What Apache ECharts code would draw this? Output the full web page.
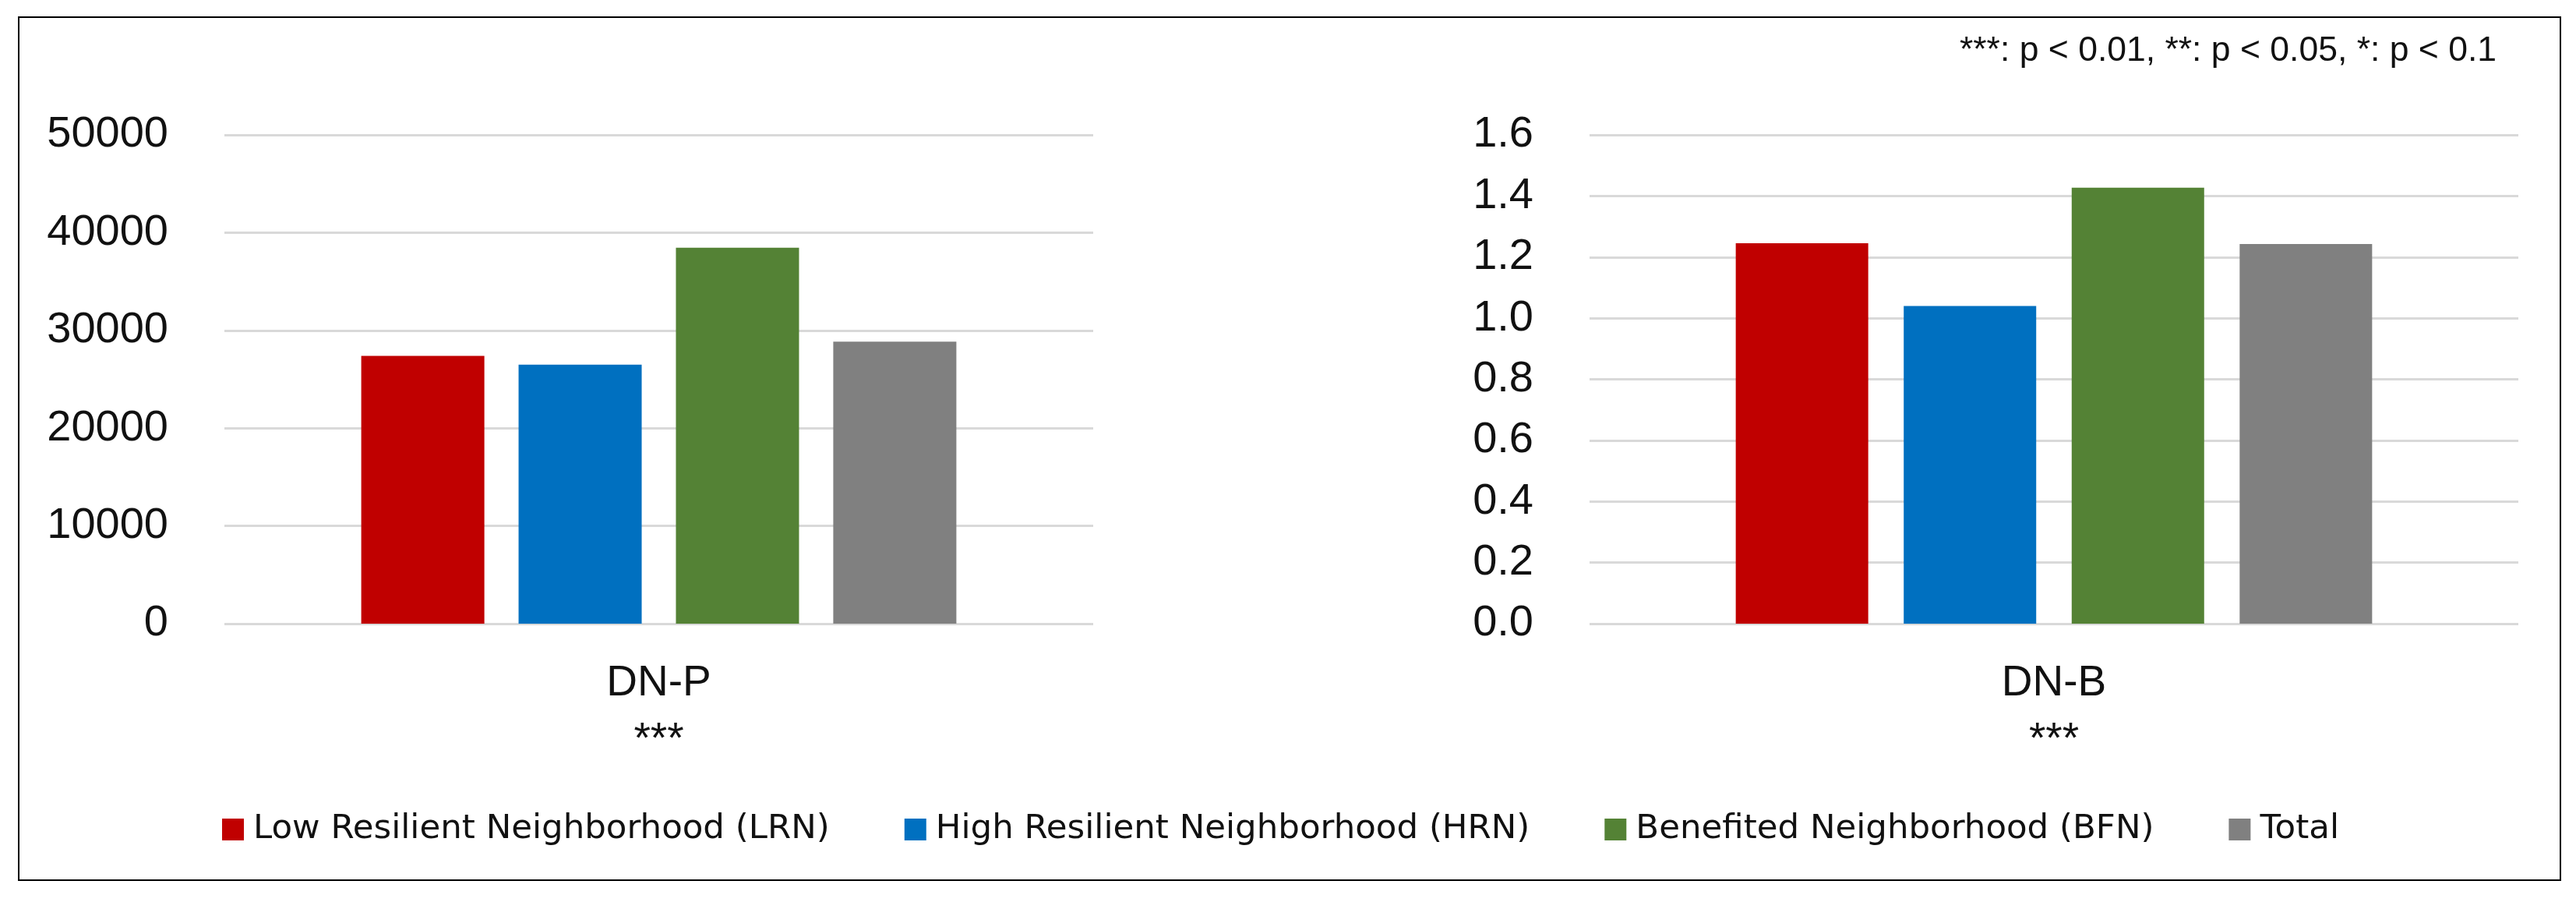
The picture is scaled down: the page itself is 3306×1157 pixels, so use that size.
<!DOCTYPE html>
<html><head><meta charset="utf-8">
<script src="https://cdn.jsdelivr.net/npm/echarts@6/dist/echarts.min.js"></script>
<style>html,body{margin:0;padding:0;background:#fff}#c{width:3306px;height:1157px}</style>
</head><body><div id="c"></div>
<script>
// ---- data ----
const seriesNames = ['Low Resilient Neighborhood (LRN)', 'High Resilient Neighborhood (HRN)', 'Benefited Neighborhood (BFN)', 'Total'];
const seriesColors = ['#C00000', '#0070C0', '#548235', '#808080'];
const categoriesLeft = ['DN-P'];
const categoriesRight = ['DN-B'];
const significanceLeft = '***';
const significanceRight = '***';
const valuesLeft = [27400, 26500, 38450, 28850];
const valuesRight = [1.245, 1.04, 1.427, 1.243];
const yMinLeft = 0, yMaxLeft = 50000, yIntervalLeft = 10000;
const yMinRight = 0, yMaxRight = 1.6, yIntervalRight = 0.2;
const noteText = '***: p < 0.01, **: p < 0.05, *: p < 0.1';

const chart = echarts.init(document.getElementById('c'), null, {renderer: 'canvas'});
const txt = '#111';
const gridColor = '#d9d9d9';
const axisFont = 'Liberation Sans';

function yAxis(gridIndex, min, max, interval, fmt) {
  return {
    type: 'value', gridIndex, min, max, interval,
    axisLine: {show: false}, axisTick: {show: false},
    splitLine: {show: true, lineStyle: {color: gridColor, width: 3}},
    axisLabel: {margin: 72, color: txt, fontSize: 56, fontFamily: axisFont, formatter: fmt}
  };
}
function xAxis(gridIndex, cats, sig) {
  return {
    type: 'category', gridIndex, data: cats,
    axisLine: {show: false}, axisTick: {show: false},
    axisLabel: {margin: 40, color: txt, fontSize: 55, fontFamily: axisFont, lineHeight: 73,
      formatter: v => v + '\n' + sig}
  };
}

const series = [];
seriesNames.forEach((name, i) => {
  series.push({type: 'bar', name, xAxisIndex: 0, yAxisIndex: 0, data: [valuesLeft[i]],
    barWidth: 158, barGap: '27.8%', itemStyle: {color: seriesColors[i]}});
});
seriesNames.forEach((name, i) => {
  series.push({type: 'bar', name, xAxisIndex: 1, yAxisIndex: 1, data: [valuesRight[i]],
    barWidth: 170, barGap: '26.8%', itemStyle: {color: seriesColors[i]}});
});

chart.setOption({
  backgroundColor: '#ffffff',
  animation: false,
  grid: [
    {left: 288, right: 3306 - 1403, top: 173, bottom: 1157 - 800},
    {left: 2040, right: 3306 - 3232, top: 173, bottom: 1157 - 800}
  ],
  xAxis: [xAxis(0, categoriesLeft, significanceLeft), xAxis(1, categoriesRight, significanceRight)],
  yAxis: [
    yAxis(0, yMinLeft, yMaxLeft, yIntervalLeft, v => String(v)),
    yAxis(1, yMinRight, yMaxRight, yIntervalRight, v => v.toFixed(1))
  ],
  legend: {
    data: seriesNames, left: 280, top: 1037, orient: 'horizontal',
    itemWidth: 28, itemHeight: 28, itemGap: 96, icon: 'rect',
    textStyle: {color: txt, fontSize: 43.5, fontFamily: 'DejaVu Sans', padding: [0, 0, 0, 7]}
  },
  graphic: [
    {type: 'rect', shape: {x: 24, y: 22, width: 3262, height: 1107},
      style: {fill: 'none', stroke: '#000', lineWidth: 2}, silent: true, z: 100},
    {type: 'text', x: 3204, y: 66,
      style: {text: noteText, fill: txt, fontSize: 44.5, fontFamily: 'Liberation Sans',
        textAlign: 'right', textVerticalAlign: 'middle'}}
  ],
  series
});
</script></body></html>
